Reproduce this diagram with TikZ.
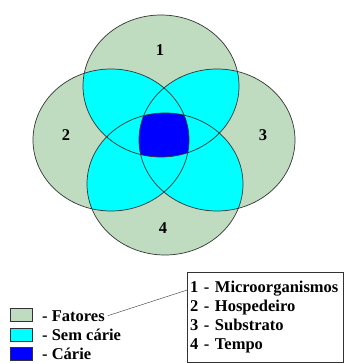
\documentclass[tikz,border=0pt]{standalone}
\usepackage{fontspec}
\setmainfont{Liberation Serif}
\usepackage{tikz}
\usetikzlibrary{positioning, calc}
\definecolor{vFator}{HTML}{C0DCC0}
\definecolor{vSem}{HTML}{00FFFF}
\definecolor{vCarie}{HTML}{0000FF}

\begin{document}
\begin{tikzpicture}[x=1pt, y=-1pt,
    circulo/.style={x radius=78pt, y radius=71pt},
    rotulo/.style={font=\fontsize{16.5}{19}\selectfont\bfseries, inner sep=0pt},
    amostra/.style={draw=black!80, minimum width=22pt, minimum height=13pt, inner sep=0pt}]
    \useasboundingbox (0,0) rectangle (344,363);
    \coordinate (c1) at (161,86);
    \coordinate (c2) at (111,140);
    \coordinate (c3) at (217,140);
    \coordinate (c4) at (165,184);
    % fatores
    \foreach \i in {1,...,4} \fill[vFator] (c\i) ellipse [circulo];
    % sem carie: onde dois circulos se cruzam
    \foreach \a/\b in {1/2,1/3,1/4,2/3,2/4,3/4} {
      \begin{scope}
        \clip (c\a) ellipse [circulo];
        \fill[vSem] (c\b) ellipse [circulo];
      \end{scope}
    }
    % carie: os quatro juntos
    \begin{scope}
      \clip (c1) ellipse [circulo];
      \clip (c2) ellipse [circulo];
      \clip (c3) ellipse [circulo];
      \fill[vCarie] (c4) ellipse [circulo];
    \end{scope}
    \foreach \i in {1,...,4} \draw[black!80, line width=0.7pt] (c\i) ellipse [circulo];
    \node[rotulo] (n1) at (160,50) {1};
    \node[rotulo] (n2) at (66,135) {2};
    \node[rotulo] (n3) at (263,135) {3};
    \node[rotulo] (n4) at (163,228) {4};
    % legenda
    \node[amostra, fill=vFator] (a1) at (21,315) {};
    \node[amostra, fill=vSem] (a2) at (21,335) {};
    \node[amostra, fill=vCarie] (a3) at (21,354) {};
    \node[rotulo, anchor=base west] (t1) at (42,321) {- Fatores};
    \node[rotulo, anchor=base west] (t2) at (42,340.5) {- Sem cárie};
    \node[rotulo, anchor=base west] (t3) at (42,359) {- Cárie};
    \node[rotulo, draw=black!80, anchor=north west, inner xsep=3pt, text width=150pt,
      minimum height=90pt, align=left] (lista) at (187,272)
      {1 - Microorganismos\\2 - Hospedeiro\\3 - Substrato\\4 - Tempo};
    \draw[black!80] ([xshift=3pt]t1.east) -- ($(lista.north west)!0.2!(lista.south west)$);
  \end{tikzpicture}
\end{document}
